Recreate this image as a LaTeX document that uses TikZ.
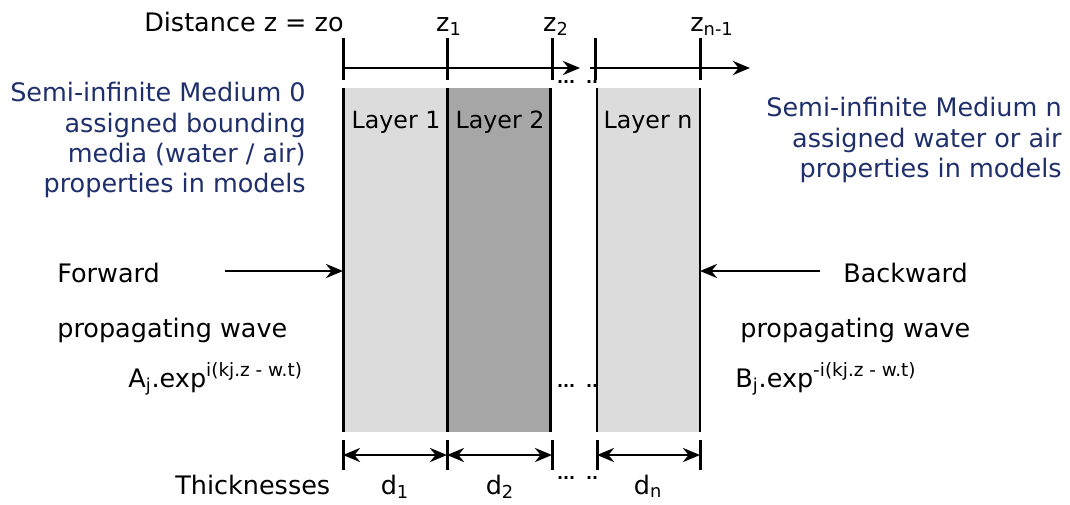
\documentclass[tikz,border=0pt]{standalone}
\usepackage{fontspec}
\setmainfont{DejaVu Sans}
\usetikzlibrary{positioning, arrows.meta}
\definecolor{MediumBlue}{HTML}{1F2F6B}
\definecolor{LayerLight}{HTML}{DCDCDC}
\definecolor{LayerDark}{HTML}{A6A6A6}
\newcommand{\expo}[1]{\raisebox{0.75ex}{\fontsize{10.5}{12}\selectfont #1}}

\begin{document}
\begin{tikzpicture}[
    x=0.02cm, y=-0.02cm,
    layer/.style={anchor=north west, minimum width=2.08cm, minimum height=6.88cm, inner sep=0pt, outer sep=0pt},
    lab/.style={font=\fontsize{14.5}{17}\selectfont, inner sep=0pt},
    medium/.style={font=\fontsize{14.5}{17.3}\selectfont, text=MediumBlue, align=right, inner sep=0pt},
    dots/.style={font=\fontsize{9}{9}\selectfont\bfseries, inner sep=0pt},
    arr/.style={-{Stealth[length=3.4mm, width=2.8mm]}, line width=1.6pt},
    dim/.style={{Stealth[length=3.4mm, width=2.8mm]}-{Stealth[length=3.4mm, width=2.8mm]}, line width=1.6pt},
    tickline/.style={line width=1.7pt},
    edge/.style={line width=1.7pt}
]
\useasboundingbox (0,0) rectangle (1070,504);

% Layers
\node[layer, fill=LayerLight] (l1) at (343,88) {};
\node[layer, fill=LayerDark] (l2) at (447,88) {};
\node[layer, fill=LayerLight, minimum width=2.06cm] (ln) at (597,88) {};
\draw[edge] (l1.north west) -- (l1.south west);
\draw[edge] (l2.north west) -- (l2.south west);
\draw[edge] (l2.north east) -- (l2.south east);
\draw[line width=0.9pt] (ln.north west) -- (ln.south west);
\draw[edge] (ln.north east) -- (ln.south east);
\node[lab, font=\fontsize{13.5}{16}\selectfont] (t1) at (396,122) {Layer 1};
\node[lab, font=\fontsize{13.5}{16}\selectfont] (t2) at (500,122) {Layer 2};
\node[lab, font=\fontsize{13.5}{16}\selectfont] (tn) at (648,122) {Layer n};

% Distance axis
\coordinate (a0) at (343,68);
\coordinate (a1) at (580,68);
\coordinate (b0) at (590,68);
\coordinate (b1) at (750,68);
\draw[arr] (a0) -- (a1);
\draw[arr] (b0) -- (b1);
\foreach \x in {343,447,552,595,700}
    \draw[tickline] (\x,38) -- (\x,80);
\node[lab, anchor=base east] (dist) at (344,31) {Distance z = zo};
\node[lab, anchor=base] (z1) at (449,31) {z\textsubscript{1}};
\node[lab, anchor=base] (z2) at (556,31) {z\textsubscript{2}};
\node[lab, anchor=base] (zn) at (712,31) {z\textsubscript{n-1}};
\node[dots] (d0a) at (566,82) {...};
\node[dots] (d0b) at (592,82) {..};
\node[dots] (d1a) at (566,386) {...};
\node[dots] (d1b) at (592,386) {..};

% Bounding media
\node[medium, anchor=north east] (med0) at (306,82)
    {Semi-infinite Medium 0\\assigned bounding\\media (water / air)\\properties in models};
\node[medium, anchor=north east] (medn) at (1062,97)
    {Semi-infinite Medium n\\assigned water or air\\properties in models};

% Waves
\node[lab, anchor=base west] (fwd) at (57,282) {Forward};
\node[lab, anchor=base west] (fwdp) at (57,337) {propagating wave};
\node[lab, anchor=base west] (fwde) at (128,387) {A\textsubscript{j}.exp\expo{i(kj.z - w.t)}};
\coordinate (fs) at (225,271);
\draw[arr] (fs) -- (l1.west |- fs);
\node[lab, anchor=base west] (bwd) at (843,282) {Backward};
\node[lab, anchor=base west] (bwdp) at (740,337) {propagating wave};
\node[lab, anchor=base west] (bwde) at (735,387) {B\textsubscript{j}.exp\expo{-i(kj.z - w.t)}};
\coordinate (bs) at (820,271);
\draw[arr] (bs) -- (ln.east |- bs);

% Thicknesses
\foreach \x in {343,447,552,597,700}
    \draw[tickline] (\x,440) -- (\x,470);
\coordinate (c0) at (343,455);
\coordinate (c1) at (447,455);
\coordinate (c2) at (552,455);
\coordinate (c3) at (597,455);
\coordinate (c4) at (700,455);
\draw[dim] (c0) -- (c1);
\draw[dim] (c1) -- (c2);
\draw[dim] (c3) -- (c4);
\node[lab, anchor=base west] (thick) at (175,494) {Thicknesses};
\node[lab, anchor=base] (dd1) at (395,494) {d\textsubscript{1}};
\node[lab, anchor=base] (dd2) at (500,494) {d\textsubscript{2}};
\node[lab, anchor=base] (ddn) at (648,494) {d\textsubscript{n}};
\node[dots] (d2a) at (566,478) {...};
\node[dots] (d2b) at (592,478) {..};

\end{tikzpicture}
\end{document}
